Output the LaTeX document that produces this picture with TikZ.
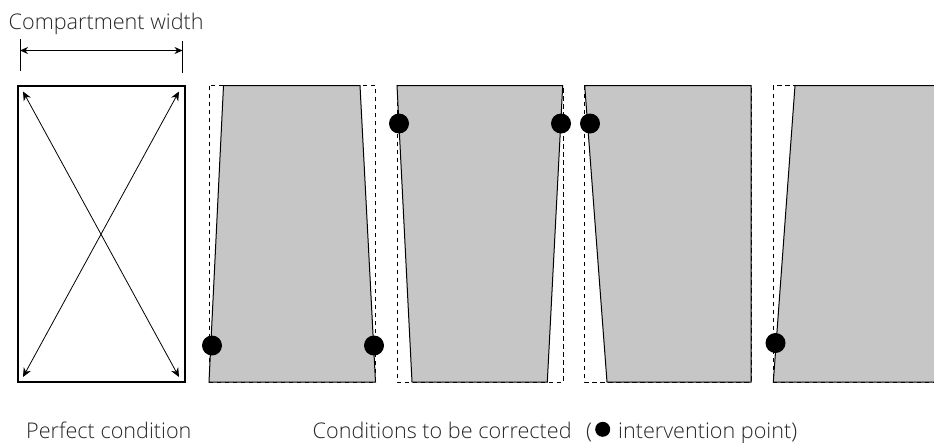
\documentclass[tikz,border=0pt]{standalone}
\usepackage{fontspec}
\setmainfont{Open Sans Light}[BoldFont={Open Sans}]
\usetikzlibrary{arrows.meta}
\definecolor{fillgray}{HTML}{C6C6C6}
\tikzset{
  x=1pt,y=-1pt,
  shapefill/.style={fill=fillgray,draw=none},
  outline/.style={draw=black,line width=1pt,line join=miter},
  dashbox/.style={draw=black,line width=0.8pt,dash pattern=on 4.5pt off 3.5pt},
  dot/.style={circle,fill=black,draw=none,minimum size=20pt,inner sep=0pt},
  dotsmall/.style={circle,fill=black,draw=none,minimum size=15pt,inner sep=0pt},
  label/.style={inner sep=0pt,anchor=base west,font=\fontsize{21.6}{24}\selectfont,text=black!85},
  thinarrow/.style={draw=black,line width=0.8pt,{Stealth[length=9pt,width=8pt]}-{Stealth[length=9pt,width=8pt]}},
  dimarrow/.style={draw=black,line width=1pt,{Stealth[length=8pt,width=7pt]}-{Stealth[length=8pt,width=7pt]}},
  tick/.style={draw=black,line width=0.8pt},
  frame/.style={draw=black,line width=2pt}
}
\begin{document}
\begin{tikzpicture}
\useasboundingbox (0,0) rectangle (934,442);
\clip (0,0) rectangle (934,442);
% labels
\node[label] (lw) at (8.5,29) {Compartment width};
\node[label] (lp) at (26,438) {Perfect condition};
\node[label] (lc) at (312.5,438) {Conditions to be corrected};
\node[label] (lo) at (586,438) {(};
\node[dotsmall] (ld) at (602.7,429.3) {};
\node[label] (li) at (618,438) {intervention point)};
% dimension
\coordinate (da) at (20,50.5);
\coordinate (db) at (182.5,50.5);
\coordinate (da1) at (20,39);
\coordinate (da2) at (20,71);
\coordinate (db1) at (182.5,41);
\coordinate (db2) at (182.5,73);
\draw[tick] (da1) -- (da2);
\draw[tick] (db1) -- (db2);
\draw[dimarrow] (da) -- (db);
% perfect frame
\coordinate (f1) at (18,85.5);
\coordinate (f2) at (184.5,382);
\coordinate (a1) at (23,91.5);
\coordinate (a2) at (179,377);
\coordinate (a3) at (179,91.5);
\coordinate (a4) at (23,377);
\draw[frame] (f1) rectangle (f2);
\draw[thinarrow] (a1) -- (a2);
\draw[thinarrow] (a3) -- (a4);
% shape 1
\draw[dashbox] (209,85.5) rectangle (375.5,382);
\draw[shapefill] (223.5,85.5) -- (360,85.5) -- (375.5,382) -- (209,382) -- cycle;
\draw[outline] (223.5,85.5) -- (360,85.5) -- (375.5,382) -- (209,382) -- cycle;
\node[dot] (d1) at (212,345.5) {};
\node[dot] (d2) at (374,345.5) {};
% shape 2
\draw[dashbox] (397,85.5) rectangle (563,382);
\draw[shapefill] (397,85.5) -- (562.7,85.5) -- (547.3,382) -- (412,382) -- cycle;
\draw[outline] (397,85.5) -- (562.7,85.5) -- (547.3,382) -- (412,382) -- cycle;
\node[dot] (d3) at (399,123.5) {};
\node[dot] (d4) at (561,123.5) {};
% shape 3
\draw[dashbox] (584.7,85.5) rectangle (751,382);
\draw[shapefill] (584.7,85.5) -- (751,85.5) -- (751,382) -- (607,382) -- cycle;
\draw[outline] (584.7,85.5) -- (751,85.5) -- (751,382) -- (607,382) -- cycle;
\node[dot] (d5) at (590,123.5) {};
% shape 4
\draw[dashbox] (773.3,85.5) rectangle (945,382);
\draw[shapefill] (795,85.5) -- (945,85.5) -- (945,382) -- (773.3,382) -- cycle;
\draw[outline] (795,85.5) -- (945,85.5) -- (945,382) -- (773.3,382) -- cycle;
\node[dot] (d6) at (775.5,343) {};
\end{tikzpicture}
\end{document}
